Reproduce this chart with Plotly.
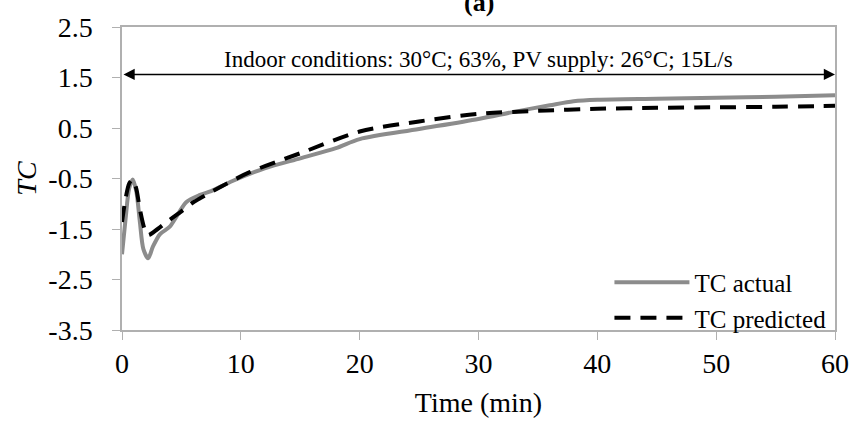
import plotly.graph_objects as go

t_actual = [0, 0.3, 0.6, 0.9, 1.2, 1.5, 1.8, 2.2, 2.6, 3.2, 4, 4.6, 5.4, 6.5, 7.5, 9.3, 12, 15, 18, 20, 25, 30, 33, 36, 38, 40, 45, 50, 55, 60]
tc_actual = [-2.0, -1.3, -0.7, -0.52, -0.75, -1.35, -1.9, -2.08, -1.85, -1.6, -1.46, -1.25, -0.97, -0.83, -0.75, -0.55, -0.3, -0.1, 0.1, 0.28, 0.48, 0.68, 0.82, 0.95, 1.03, 1.06, 1.08, 1.1, 1.12, 1.15]

t_pred = [0, 0.3, 0.6, 0.9, 1.2, 1.5, 1.9, 2.2, 3, 4, 5, 6, 8.2, 10.7, 15, 20, 25, 30, 35, 40, 45, 50, 55, 60]
tc_pred = [-1.36, -0.9, -0.6, -0.52, -0.7, -1.1, -1.5, -1.62, -1.5, -1.32, -1.15, -0.97, -0.68, -0.38, 0.0, 0.43, 0.63, 0.78, 0.84, 0.88, 0.9, 0.91, 0.92, 0.94]

x_ticks = [0, 10, 20, 30, 40, 50, 60]
y_ticks = [2.5, 1.5, 0.5, -0.5, -1.5, -2.5, -3.5]

font = "Liberation Serif, Times New Roman, serif"

fig = go.Figure()
fig.add_trace(go.Scatter(x=t_actual, y=tc_actual, mode="lines", name="TC actual",
                         line=dict(color="#8c8c8c", width=4, shape="spline", smoothing=0.8)))
fig.add_trace(go.Scatter(x=t_pred, y=tc_pred, mode="lines", name="TC predicted",
                         line=dict(color="black", width=4, dash="16px,10px", shape="spline", smoothing=0.8)))

# double-headed arrow
fig.add_annotation(x=60, y=1.56, ax=0, ay=1.56, xref="x", yref="y", axref="x", ayref="y",
                   showarrow=True, arrowside="end+start", arrowhead=2, arrowsize=1.4,
                   arrowwidth=1.6, arrowcolor="black", text="")
fig.add_annotation(x=30, y=1.56, xref="x", yref="y", text="Indoor conditions: 30°C; 63%, PV supply: 26°C; 15L/s",
                   showarrow=False, yanchor="bottom", yshift=0, font=dict(family=font, size=23, color="black"))
fig.add_annotation(x=0.5, y=1.0, xref="paper", yref="paper", text="<b>(a)</b>", showarrow=False,
                   yanchor="bottom", yshift=8, font=dict(family=font, size=26, color="black"))

fig.update_layout(
    width=861, height=437,
    margin=dict(l=122, r=21, t=22, b=107),
    paper_bgcolor="white", plot_bgcolor="white",
    font=dict(family=font, color="black"),
    showlegend=True,
    legend=dict(x=0.995, y=-0.035, xanchor="right", yanchor="bottom",
                font=dict(family=font, size=25, color="black"),
                bgcolor="rgba(0,0,0,0)", itemwidth=75, tracegroupgap=0),
    xaxis=dict(range=[0, 60], tickvals=x_ticks, ticktext=[str(v) for v in x_ticks],
               showgrid=False, zeroline=False, showline=True, linecolor="#b0b0b0", linewidth=1.5,
               mirror=True, ticks="outside", ticklen=8, tickcolor="#b0b0b0",
               tickfont=dict(family=font, size=28, color="black"),
               title=dict(text="Time (min)", font=dict(family=font, size=28, color="black"), standoff=14)),
    yaxis=dict(range=[-3.5, 2.5], tickvals=y_ticks, ticktext=[f"{v:.1f}" for v in y_ticks],
               showgrid=False, zeroline=False, showline=True, linecolor="#b0b0b0", linewidth=1.5,
               mirror=True, ticks="outside", ticklen=8, tickcolor="#b0b0b0", ticklabelstandoff=14,
               tickfont=dict(family=font, size=28, color="black"),
               title=dict(text="<i>TC</i>", font=dict(family=font, size=28, color="black"), standoff=4)),
)
fig.write_html("out.html")
